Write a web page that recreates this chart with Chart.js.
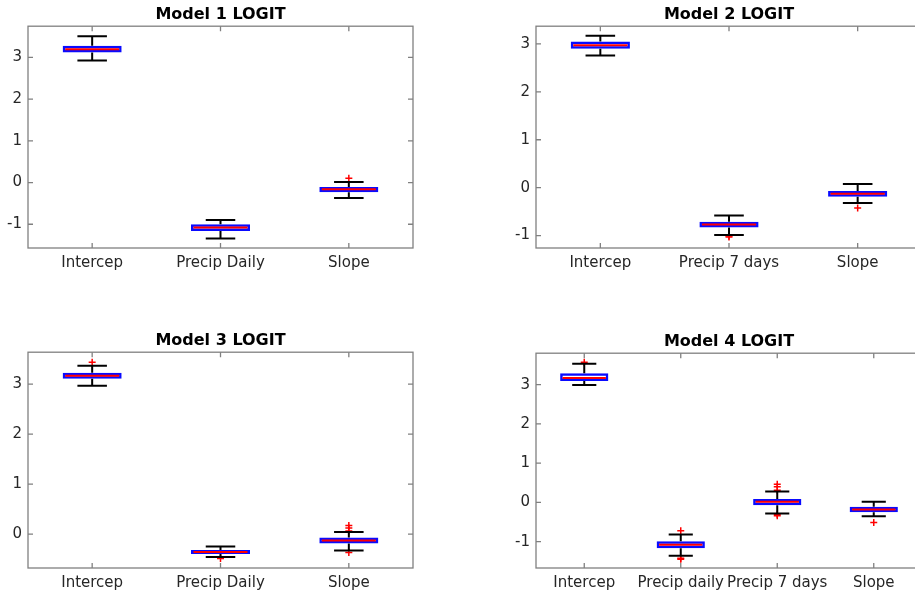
<!DOCTYPE html>
<html>
<head>
<meta charset="utf-8">
<script src="https://cdn.jsdelivr.net/npm/chart.js@4.4.1/dist/chart.umd.min.js"></script>
<style>
  html, body { margin: 0; padding: 0; background: #fff; overflow: hidden; }
  #page { position: relative; width: 915px; height: 597px; overflow: hidden; }
  #page canvas { position: absolute; }
</style>
</head>
<body>
<div id="page">
  <canvas id="m1"></canvas>
  <canvas id="m2"></canvas>
  <canvas id="m3"></canvas>
  <canvas id="m4"></canvas>
</div>
<script>
// tick labels shared by all four panels
const yTicks = [-1, 0, 1, 2, 3];

// Model 1
const m1Labels = ['Intercep', 'Precip Daily', 'Slope'];
const m1Q1 = [3.12, -1.16, -0.23];
const m1Q3 = [3.28, -1.00, -0.105];
const m1Median = [3.20, -1.08, -0.16];
const m1Low = [2.93, -1.34, -0.37];
const m1High = [3.51, -0.90, 0.015];
const m1Outliers = [[], [], [0.10]];
const m1Range = [-1.57, 3.75];

// Model 2
const m2Labels = ['Intercep', 'Precip 7 days', 'Slope'];
const m2Q1 = [2.90, -0.83, -0.19];
const m2Q3 = [3.05, -0.71, -0.07];
const m2Median = [2.97, -0.77, -0.125];
const m2Low = [2.76, -0.99, -0.32];
const m2High = [3.17, -0.58, 0.075];
const m2Outliers = [[], [-1.01, -1.03], [-0.425]];
const m2Range = [-1.26, 3.37];

// Model 3
const m3Labels = ['Intercep', 'Precip Daily', 'Slope'];
const m3Q1 = [3.11, -0.40, -0.19];
const m3Q3 = [3.23, -0.32, -0.07];
const m3Median = [3.17, -0.36, -0.13];
const m3Low = [2.97, -0.46, -0.33];
const m3High = [3.37, -0.25, 0.04];
const m3Outliers = [[3.44], [-0.49], [0.17, 0.12, 0.06, -0.37]];
const m3Range = [-0.68, 3.64];

// Model 4
const m4Labels = ['Intercep', 'Precip daily', 'Precip 7 days', 'Slope'];
const m4Q1 = [3.09, -1.17, -0.07, -0.25];
const m4Q3 = [3.29, -0.99, 0.09, -0.11];
const m4Median = [3.17, -1.08, 0.015, -0.18];
const m4Low = [2.99, -1.36, -0.28, -0.35];
const m4High = [3.53, -0.82, 0.28, 0.015];
const m4Outliers = [[3.57], [-0.72, -1.42, -1.45], [0.46, 0.40, 0.31, -0.30, -0.34], [-0.51]];
const m4Range = [-1.67, 3.80];

const TITLE_H = 26.2;
const Y_W = 40;
const X_H = 42;
const PAD_R = 10;

// whiskers, medians and the axes box with inward ticks
const boxExtras = {
  id: 'boxExtras',
  afterDatasetsDraw(chart, args, opts) {
    const ctx = chart.ctx;
    const a = chart.chartArea;
    const x = chart.scales.x, y = chart.scales.y;
    const bars = chart.getDatasetMeta(0).data;
    ctx.save();
    bars.forEach((bar, i) => {
      const cx = bar.x;
      const half = bar.width / 2;
      const cap = half / 2;
      const top = y.getPixelForValue(opts.q3[i]);
      const bot = y.getPixelForValue(opts.q1[i]);
      const hi = y.getPixelForValue(opts.high[i]);
      const lo = y.getPixelForValue(opts.low[i]);
      ctx.strokeStyle = '#000';
      ctx.lineWidth = 2;
      ctx.beginPath();
      ctx.moveTo(cx, top); ctx.lineTo(cx, hi);
      ctx.moveTo(cx, bot); ctx.lineTo(cx, lo);
      ctx.moveTo(cx - cap, hi); ctx.lineTo(cx + cap, hi);
      ctx.moveTo(cx - cap, lo); ctx.lineTo(cx + cap, lo);
      ctx.stroke();
      const md = y.getPixelForValue(opts.median[i]);
      ctx.strokeStyle = '#ff0000';
      ctx.lineWidth = 2;
      ctx.beginPath();
      ctx.moveTo(cx - half + 2.5, md); ctx.lineTo(cx + half - 2.5, md);
      ctx.stroke();
    });
    // axes box
    ctx.strokeStyle = '#808080';
    ctx.lineWidth = 1.3;
    ctx.strokeRect(a.left, a.top, a.right - a.left, a.bottom - a.top);
    ctx.beginPath();
    y.ticks.forEach(t => {
      const py = y.getPixelForValue(t.value);
      ctx.moveTo(a.left, py); ctx.lineTo(a.left + 5, py);
      ctx.moveTo(a.right, py); ctx.lineTo(a.right - 5, py);
    });
    bars.forEach((bar, i) => {
      const px = x.getPixelForValue(i);
      ctx.moveTo(px, a.bottom); ctx.lineTo(px, a.bottom - 5);
      ctx.moveTo(px, a.top); ctx.lineTo(px, a.top + 5);
    });
    ctx.stroke();
    ctx.restore();
  }
};

function makePanel(id, title, labels, q1, q3, median, low, high, outliers, range, box, barPct) {
  const canvas = document.getElementById(id);
  const w = box.w + Y_W + PAD_R;
  const h = box.h + TITLE_H + X_H;
  canvas.width = w;
  canvas.height = h;
  canvas.style.left = (box.x - Y_W) + 'px';
  canvas.style.top = (box.y - TITLE_H) + 'px';

  const outlierPts = [];
  outliers.forEach((list, i) => list.forEach(v => outlierPts.push({ x: labels[i], y: v })));

  new Chart(canvas, {
    type: 'bar',
    data: {
      labels: labels,
      datasets: [{
        label: 'box',
        data: labels.map((l, i) => [q1[i], q3[i]]),
        backgroundColor: 'rgba(255,255,255,0)',
        borderColor: '#0a0aff',
        borderWidth: 2.5,
        borderSkipped: false,
        categoryPercentage: 1,
        barPercentage: barPct
      }, {
        type: 'line',
        label: 'outliers',
        data: outlierPts,
        showLine: false,
        pointStyle: 'cross',
        pointRadius: 3.5,
        pointBorderColor: '#ff0000',
        pointBorderWidth: 1.5,
        pointBackgroundColor: '#ff0000'
      }]
    },
    options: {
      responsive: false,
      animation: false,
      layout: { padding: { right: PAD_R } },
      plugins: {
        legend: { display: false },
        tooltip: { enabled: false },
        title: {
          display: true,
          text: title,
          fullSize: false,
          color: '#000',
          font: { family: 'DejaVu Sans', size: 16, weight: 'bold' },
          padding: { top: 5, bottom: 2 }
        },
        boxExtras: { q1: q1, q3: q3, median: median, low: low, high: high }
      },
      scales: {
        x: {
          grid: { display: false, drawTicks: false },
          border: { display: false },
          ticks: {
            autoSkip: false, maxRotation: 0, minRotation: 0,
            padding: 6, color: '#262626',
            font: { family: 'DejaVu Sans', size: 15 }
          },
          afterFit: s => { s.height = X_H; }
        },
        y: {
          min: range[0],
          max: range[1],
          grid: { display: false, drawTicks: false },
          border: { display: false },
          afterBuildTicks: s => {
            s.ticks = yTicks.filter(v => v >= range[0] && v <= range[1]).map(v => ({ value: v }));
          },
          ticks: {
            padding: 6, color: '#262626',
            font: { family: 'DejaVu Sans', size: 15 }
          },
          afterFit: s => { s.width = Y_W; }
        }
      }
    },
    plugins: [boxExtras]
  });
}

makePanel('m1', 'Model 1 LOGIT', m1Labels, m1Q1, m1Q3, m1Median, m1Low, m1High, m1Outliers, m1Range,
  { x: 28, y: 26, w: 385, h: 222 }, 0.46);
makePanel('m2', 'Model 2 LOGIT', m2Labels, m2Q1, m2Q3, m2Median, m2Low, m2High, m2Outliers, m2Range,
  { x: 536, y: 26.5, w: 386, h: 222 }, 0.46);
makePanel('m3', 'Model 3 LOGIT', m3Labels, m3Q1, m3Q3, m3Median, m3Low, m3High, m3Outliers, m3Range,
  { x: 28, y: 352.3, w: 385, h: 216 }, 0.46);
makePanel('m4', 'Model 4 LOGIT', m4Labels, m4Q1, m4Q3, m4Median, m4Low, m4High, m4Outliers, m4Range,
  { x: 536, y: 352.7, w: 386.5, h: 215.6 }, 0.5);
</script>
</body>
</html>
